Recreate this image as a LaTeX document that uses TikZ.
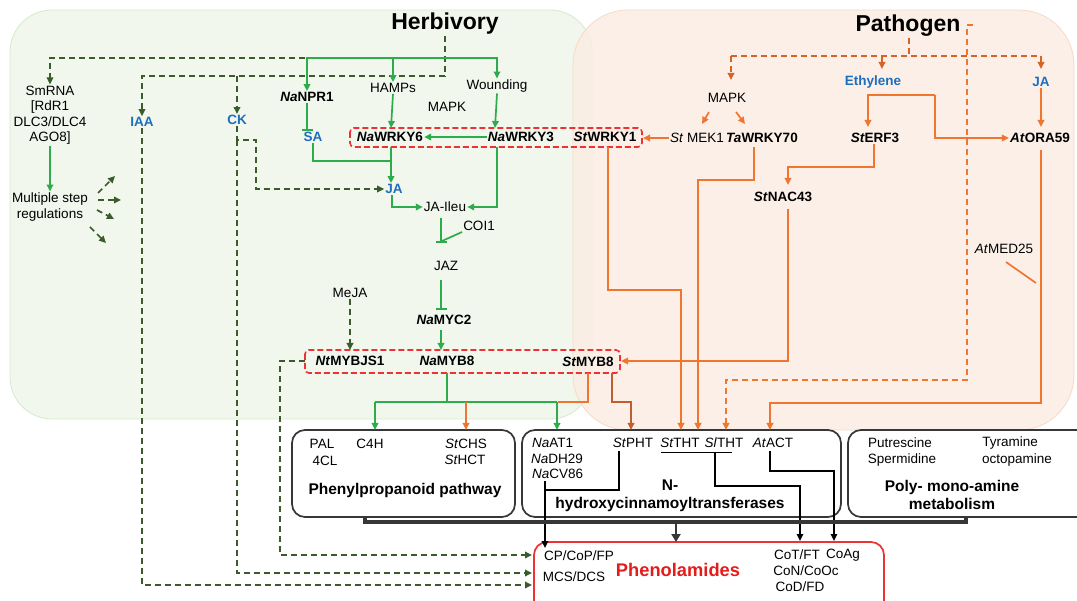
\documentclass[tikz,border=0pt]{standalone}
\usepackage{fontspec}
\setmainfont{Liberation Sans}
\usetikzlibrary{arrows.meta}
\definecolor{grn}{RGB}{45,172,75}
\definecolor{dgrn}{RGB}{58,92,42}
\definecolor{orn}{RGB}{240,118,48}
\definecolor{dorn}{RGB}{214,100,40}
\definecolor{brn}{RGB}{190,95,45}
\definecolor{blu}{RGB}{30,110,190}
\definecolor{redc}{RGB}{236,50,50}
\definecolor{redt}{RGB}{228,28,28}
\definecolor{gbg}{RGB}{241,247,237}
\definecolor{gbd}{RGB}{214,234,204}
\definecolor{obg}{RGB}{251,236,226}
\definecolor{obd}{RGB}{248,218,198}
\definecolor{bxc}{RGB}{55,55,55}
\newcommand\myfs{\fontsize{13.5}{15.5}\selectfont}
\newcommand\mybig{\fontsize{15.5}{18.5}\selectfont}
\tikzset{
  tip/.style={-{Triangle[length=7pt,width=6.5pt]}},
  lbl/.style={font=\myfs, inner sep=1pt},
  blbl/.style={font=\myfs\bfseries, inner sep=1pt},
  hor/.style={font=\myfs\bfseries, text=blu, inner sep=1pt},
  sect/.style={font=\mybig\bfseries, inner sep=1pt, align=center},
  gr/.style={draw=grn, line width=1.7pt},
  grA/.style={gr, tip},
  grT/.style={gr, -{Bar[width=11pt,line width=1.8pt]}},
  dg/.style={draw=dgrn, line width=1.7pt, dash pattern=on 6pt off 4pt},
  dgA/.style={dg, tip},
  orl/.style={draw=orn, line width=1.7pt},
  orA/.style={orl, tip},
  ordA/.style={draw=orn, line width=1.7pt, dash pattern=on 6pt off 4pt, tip},
  dordA/.style={draw=dorn, line width=1.7pt, dash pattern=on 6pt off 4pt, tip},
  bk/.style={draw=black, line width=1.5pt},
  bkA/.style={bk, tip},
  rbox/.style={draw=redc, line width=1.6pt, dash pattern=on 6pt off 3pt, rounded corners=4pt},
  gbox/.style={draw=bxc, line width=1.7pt, rounded corners=13pt}
}
\begin{document}
\begin{tikzpicture}[x=1pt,y=-1pt]
\useasboundingbox (0,0) rectangle (1077,601);
% background regions
\fill[white] (0,0) rectangle (1077,601);
\draw[draw=gbd, fill=gbg, line width=0.8pt, rounded corners=42pt] (10,10) rectangle (592,419);
\draw[draw=obd, fill=obg, fill opacity=0.8, line width=0.8pt, rounded corners=55pt] (573,10) rectangle (1074,430);

% titles
\node[font=\fontsize{23}{26}\selectfont\bfseries, inner sep=1pt] (herb) at (445,24) {Herbivory};
\node[font=\fontsize{23}{26}\selectfont\bfseries, inner sep=1pt] (path) at (908,26) {Pathogen};

% herbivory side nodes
\node[lbl, align=center, font=\fontsize{13.5}{15.5}\selectfont] (smrna) at (50,115) {SmRNA\\{}[RdR1\\DLC3/DLC4\\AGO8]};
\node[lbl, align=center, font=\fontsize{13.5}{16}\selectfont] (multi) at (50,207) {Multiple step\\regulations};
\node[hor] (iaa) at (142,122) {IAA};
\node[hor] (ck) at (237,120) {CK};
\node[blbl] (npr1) at (307,97) {\textit{Na}NPR1};
\node[hor] (sa) at (313,137) {SA};
\node[lbl] (hamps) at (393,88) {HAMPs};
\node[lbl] (wound) at (497,86) {Wounding};
\node[lbl] (mapkh) at (447,107) {MAPK};
\node[blbl] (wrky6) at (390,137) {\textit{Na}WRKY6};
\node[blbl] (wrky3) at (521,137) {\textit{Na}WRKY3};
\node[blbl] (wrky1) at (605,137) {\textit{St}WRKY1};
\node[hor] (ja) at (394,189) {JA};
\node[lbl] (jaile) at (445,207) {JA-Ileu};
\node[lbl] (coi1) at (479,226) {COI1};
\node[lbl] (jaz) at (446,266) {JAZ};
\node[lbl] (meja) at (350,293) {MeJA};
\node[blbl] (myc2) at (444,320) {\textit{Na}MYC2};
\node[blbl] (mybjs1) at (350,361) {\textit{Nt}MYBJS1};
\node[blbl] (myb8) at (447,361) {\textit{Na}MYB8};
\node[blbl] (stmyb8) at (588,362) {\textit{St}MYB8};

% pathogen side nodes
\node[lbl] (mapkp) at (727,98) {MAPK};
\node[lbl] (mek1) at (697,138) {\textit{St} MEK1};
\node[blbl] (wrky70) at (762,138) {\textit{Ta}WRKY70};
\node[hor] (eth) at (873,82) {Ethylene};
\node[hor] (jap) at (1041,82) {JA};
\node[blbl] (erf3) at (875,138) {\textit{St}ERF3};
\node[blbl] (ora59) at (1040,138) {\textit{At}ORA59};
\node[blbl] (nac43) at (783,197) {\textit{St}NAC43};
\node[lbl] (med25) at (1004,249) {\textit{At}MED25};

% red dashed groups
\draw[rbox] (350,128) rectangle (642,147);
\draw[rbox] (305,350) rectangle (620,373);

% pathway boxes
\draw[gbox] (292,430) rectangle (515,517);
\draw[gbox] (522,430) rectangle (841,517);
\draw[gbox] (848,430) rectangle (1090,517);
\draw[draw=redc, line width=1.7pt, rounded corners=13pt] (534,542) rectangle (884,620);

% box contents
\node[lbl] (pal) at (322,444) {PAL};
\node[lbl] (fourcl) at (325,461) {4CL};
\node[lbl] (c4h) at (370,444) {C4H};
\node[lbl] (stchs) at (466,444) {\textit{St}CHS};
\node[lbl] (sthct) at (465,460) {\textit{St}HCT};
\node[sect] (phlab) at (405,490) {Phenylpropanoid pathway};

\node[lbl, anchor=west] (naat1) at (531,443) {\textit{Na}AT1};
\node[lbl, anchor=west] (nadh29) at (530,459) {\textit{Na}DH29};
\node[lbl, anchor=west] (nacv86) at (531,474) {\textit{Na}CV86};
\node[lbl] (stpht) at (633,443) {\textit{St}PHT};
\node[lbl] (sttht) at (680,443) {\textit{St}THT};
\node[lbl] (sltht) at (724,443) {\textit{Sl}THT};
\node[lbl] (atact) at (773,443) {\textit{At}ACT};
\node[sect] (nlab) at (670,485) {N-};
\node[sect] (hydlab) at (670,504) {hydroxycinnamoyltransferases};

\node[lbl] (putr) at (900,443) {Putrescine};
\node[lbl] (sperm) at (902,460) {Spermidine};
\node[lbl] (tyr) at (1010,443) {Tyramine};
\node[lbl] (octo) at (1017,460) {octopamine};
\node[sect] (polylab) at (952,495) {Poly- mono-amine\\metabolism};

\node[lbl] (cp) at (579,556) {CP/CoP/FP};
\node[lbl] (mcs) at (574,577) {MCS/DCS};
\node[font=\fontsize{18.3}{21}\selectfont\bfseries, text=redt, inner sep=1pt] (phenol) at (678,570) {Phenolamides};
\node[lbl] (cot) at (797,555) {CoT/FT};
\node[lbl] (coag) at (843,555) {CoAg};
\node[lbl] (con) at (806,571) {CoN/CoOc};
\node[lbl] (cod) at (800,587) {CoD/FD};

% ---------- herbivory connectors ----------
\coordinate (hstem) at (445,58);
\coordinate (hdash) at (445,76);
\draw[dg] (herb.south) -- (hdash);
\draw[dgA] (hdash) -| (iaa.north);
\draw[dgA] (237,76) -- (ck.north);
\draw[dgA] (hstem) -| (smrna.north);
\draw[grA] (hstem) -| (npr1.north);
\draw[grA] (hstem) -| (wound.north);
\draw[grA] (hamps.north |- hstem) -- (hamps.north);
\draw[grA] (smrna.south) -- (multi.north);
% multiple step arrows
\draw[dgA] (98,193) -- (115,176);
\draw[dgA] (98,200) -- (121,200);
\draw[dgA] (97,210) -- (114,219);
\draw[dgA] (90,227) -- (106,243);

\draw[grT] (npr1.south) -- (sa.north -| npr1.south);
\draw[grA] (hamps.south) -- (391,128);
\draw[grA] (wound.south) -- (495,128);
\draw[grA] (wrky3.west) -- (wrky6.east);
\draw[gr] (sa.south) |- (391,161);
\draw[grA] (391,147) -- (ja.north -| 391,0);
\draw[grA] (ja.south -| 392,0) |- (jaile.west);
\draw[grA] (497,147) |- (jaile.east);
\draw[grT] (441,218) -- (441,243);
\draw[gr] (coi1.south west) -- (442,241);
\draw[grT] (441,280) -- (441,310);
\draw[grA] (441,330) -- (441,350);
\draw[dgA] (meja.south) -- (350,350);

% CK to JA
\draw[dgA] (ck.south) -- (237,140) -- (256,140) |- (ja.west);
% long dashed to phenolamides
\draw[dgA] (iaa.south) |- (532,585);
\draw[dgA] (237,140) |- (532,573);
\draw[dgA] (305,361) -- (280,361) |- (532,555);

% MYB8 outputs
\draw[gr] (447,373) -- (447,402);
\draw[gr] (375,402) -- (557,402);
\draw[grA] (375,402) -- (375,430);
\draw[grA] (557,402) -- (557,430);
\draw[orA] (466,402) -- (466,430);
\draw[orl] (588,373) |- (557.8,402);
\draw[draw=brn, line width=1.7pt, tip] (612,373) -- (612,402) -| (631,430);

% ---------- pathogen connectors ----------
\draw[draw=dorn, line width=1.7pt, dash pattern=on 6pt off 4pt] (path.south -| 909,0) -- (909,56);
\draw[draw=dorn, line width=1.7pt, dash pattern=on 6pt off 4pt] (731,56) -- (1041,56);
\draw[dordA] (731,56) -- (731,80);
\draw[dordA] (882,56) -- (882,69);
\draw[dordA] (1041,56) -- (1041,69);
\draw[orA] (709,112) -- (702,124);
\draw[orA] (736,112) -- (745,124);
\draw[orA] (mek1.west) -- (643,138);
\draw[orA] (935,95) -| (868,127);
\draw[orA] (935,95) |- (ora59.west);
\draw[orA] (jap.south) -- (1041,127);
\draw[orA] (erf3.south -| 874,0) |- (788,167) -- (788,185);
\draw[orA] (788,209) |- (621,361);
\draw[orA] (608,147) |- (681,290) -- (681,430);
\draw[orA] (754,147) |- (698,180) -- (698,430);
\draw[orA] (1041,150) |- (770,403) -- (770,430);
\draw[orl] (1006,262) -- (1036,283);
\draw[ordA] (973,25) -- (967,25) -- (967,380) -| (726,430);

% ---------- enzyme to product ----------
\draw[bk, line width=0.9pt] (661,452) -- (732,452);
\draw[bkA] (545,481) -- (545,548);
\draw[bk] (619,451) |- (545,490);
\draw[bkA] (715,452) |- (800,486) -- (800,541);
\draw[bkA] (770,451) |- (834,471) -- (834,541);
\draw[draw=bxc, line width=3.2pt] (365,517) -- (365,522) -- (966,522) -- (966,517);
\draw[draw=bxc, line width=2.2pt, -{Triangle[length=8pt,width=9pt]}] (676,522) -- (676,542);
\end{tikzpicture}
\end{document}
